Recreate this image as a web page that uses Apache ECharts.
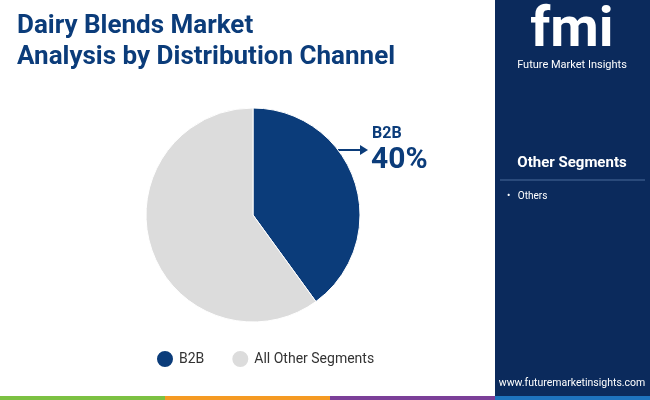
<!DOCTYPE html>
<html><head><meta charset="utf-8">
<script src="https://cdn.jsdelivr.net/npm/echarts@6/dist/echarts.min.js"></script>
<style>html,body{margin:0;padding:0;}#c{width:650px;height:400px;}</style>
</head><body><div id="c"></div>
<script>
const categories = ['B2B', 'All Other Segments'];
const values = [40, 60];
const colors = ['#0b3c7a', '#dcdcdc'];
const otherSegments = ['Others'];

const chart = echarts.init(document.getElementById('c'));
const F = 'Roboto, "Open Sans", sans-serif';
chart.setOption({
  animation: false,
  backgroundColor: '#ffffff',
  title: {
    text: 'Dairy Blends Market\nAnalysis by Distribution Channel',
    left: 12, top: 6,
    textStyle: { color: '#0b3c7a', fontSize: 26, fontWeight: 'bold', fontFamily: F, lineHeight: 31 }
  },
  legend: {
    bottom: 26, left: 150, itemWidth: 18, itemHeight: 18, itemGap: 26, icon: 'circle',
    textStyle: { color: '#333', fontSize: 14, fontFamily: F },
    data: categories
  },
  series: [{
    type: 'pie', center: [253, 215], radius: [0, 107], startAngle: 90, clockwise: true,
    label: { show: false }, labelLine: { show: false },
    itemStyle: { borderColor: '#fff', borderWidth: 1 },
    data: categories.map((c, i) => ({ name: c, value: values[i], itemStyle: { color: colors[i] } }))
  }],
  graphic: [
    { type: 'rect', shape: { x: 495, y: 0, width: 155, height: 400 }, style: { fill: '#0b2a5c' } },
    { type: 'text', style: { x: 572, y: 4, text: 'fmi', fill: '#fff', font: 'bold 56px ' + F, align: 'center' } },
    { type: 'text', style: { x: 572, y: 60, text: 'Future Market Insights', fill: '#fff', font: '11px ' + F, align: 'center' } },
    { type: 'text', style: { x: 572, y: 156, text: 'Other Segments', fill: '#fff', font: 'bold 15px ' + F, align: 'center' } },
    { type: 'line', shape: { x1: 500, y1: 180, x2: 645, y2: 180 }, style: { stroke: '#4a6a9a', lineWidth: 1 } },
    { type: 'text', style: { x: 507, y: 191, text: otherSegments.map(s => '•   ' + s).join('\n'), fill: '#fff', font: '10px ' + F } },
    { type: 'text', style: { x: 572, y: 378, text: 'www.futuremarketinsights.com', fill: '#fff', font: '10.5px ' + F, align: 'center' } },
    { type: 'line', shape: { x1: 335, y1: 150, x2: 362, y2: 150 }, style: { stroke: '#0b3c7a', lineWidth: 2 } },
    { type: 'polygon', shape: { points: [[368, 150], [360, 145], [360, 155]] }, style: { fill: '#0b3c7a' } },
    { type: 'text', style: { x: 372, y: 126, text: 'B2B', fill: '#0b3c7a', font: 'bold 16px ' + F } },
    { type: 'text', style: { x: 371, y: 145, text: '40%', fill: '#0b3c7a', font: 'bold 30px ' + F } },
    { type: 'rect', shape: { x: 0, y: 396, width: 165, height: 4 }, style: { fill: '#7cc142' } },
    { type: 'rect', shape: { x: 165, y: 396, width: 165, height: 4 }, style: { fill: '#f59a23' } },
    { type: 'rect', shape: { x: 330, y: 396, width: 165, height: 4 }, style: { fill: '#7b3f98' } },
    { type: 'rect', shape: { x: 495, y: 396, width: 155, height: 4 }, style: { fill: '#1e73be' } }
  ]
});
</script></body></html>
